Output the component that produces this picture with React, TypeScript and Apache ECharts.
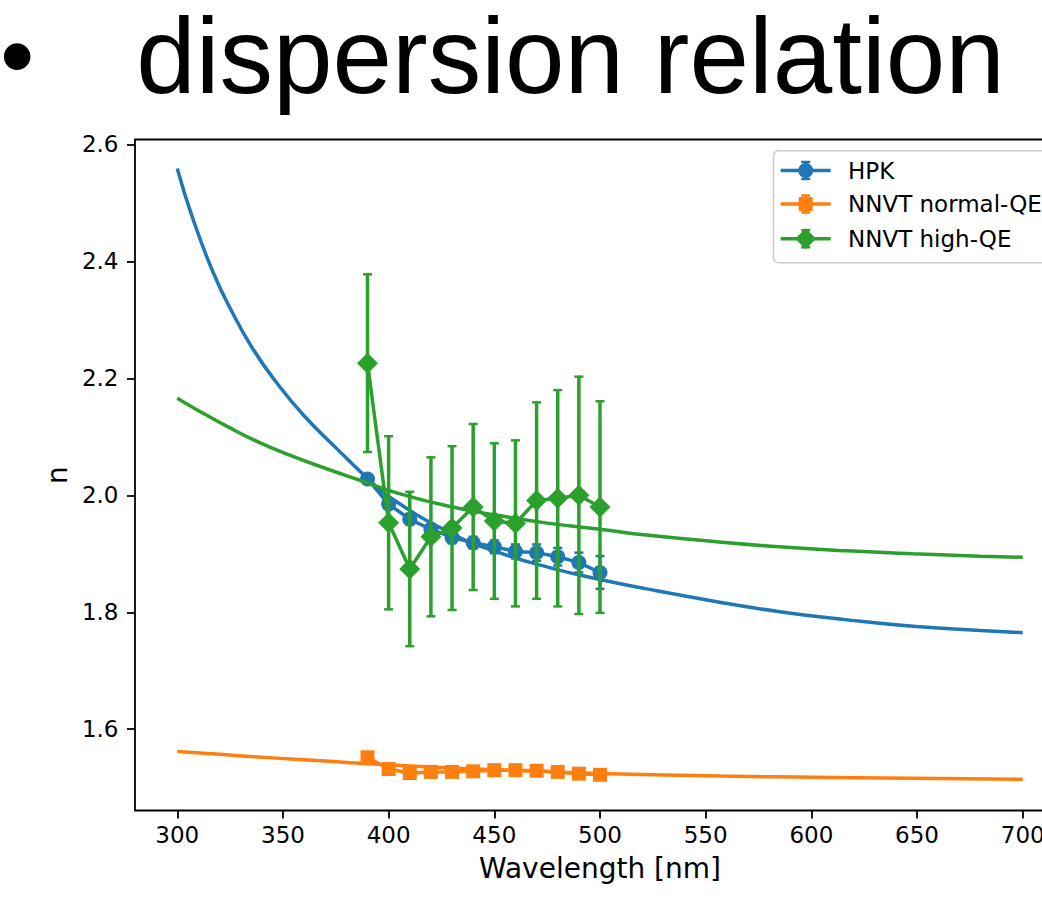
import React, { useEffect, useRef } from 'react';
import * as echarts from 'echarts';

// ---- data ----
const wavelengths = [390, 400, 410, 420, 430, 440, 450, 460, 470, 480, 490, 500];

const hpkN = [2.028, 1.985, 1.959, 1.942, 1.928, 1.919, 1.912, 1.904, 1.902, 1.895, 1.885, 1.868];
const hpkErr = [0.008, 0.008, 0.009, 0.009, 0.010, 0.010, 0.011, 0.012, 0.014, 0.015, 0.017, 0.028];

const normalN = [1.552, 1.532, 1.525, 1.527, 1.527, 1.528, 1.530, 1.530, 1.529, 1.527, 1.524, 1.522];
const normalErr = [0.005, 0.005, 0.005, 0.005, 0.005, 0.005, 0.005, 0.005, 0.005, 0.005, 0.005, 0.005];

const highN = [2.226, 1.953, 1.874, 1.929, 1.944, 1.980, 1.956, 1.952, 1.991, 1.995, 2.000, 1.980];
const highErr = [0.152, 0.148, 0.132, 0.136, 0.140, 0.142, 0.133, 0.142, 0.168, 0.185, 0.203, 0.181];

const hpkFit = [
  [300, 2.559], [307, 2.477], [317, 2.381], [326, 2.313], [335.5, 2.252],
  [346.5, 2.195], [360, 2.136], [375.7, 2.079], [390, 2.029], [400, 1.998], [429, 1.936],
  [453, 1.901], [476.5, 1.876], [500, 1.856], [522, 1.840], [554, 1.819], [585, 1.801],
  [617, 1.787], [648, 1.776], [680, 1.769], [700, 1.765],
];
const highFit = [
  [300, 2.166], [308, 2.149], [324, 2.117], [339, 2.090], [355, 2.066], [371, 2.045],
  [387, 2.025], [405, 2.003], [429, 1.981], [453, 1.965], [476, 1.952], [500, 1.942],
  [522, 1.932], [554, 1.921], [585, 1.912], [617, 1.905], [648, 1.900], [680, 1.896], [700, 1.894],
];
const normalFit = [
  [300, 1.5617], [320, 1.557], [345, 1.551], [370, 1.5455], [390, 1.541], [430, 1.5335],
  [470, 1.528], [504, 1.524], [557, 1.520], [610, 1.5175], [660, 1.5158], [700, 1.5145],
];

const xTicks = [300, 350, 400, 450, 500, 550, 600, 650, 700];
const yTicks = [1.6, 1.8, 2.0, 2.2, 2.4, 2.6];
const seriesNames = ['HPK', 'NNVT normal-QE', 'NNVT high-QE'];
const titleText = 'dispersion relation';
const xName = 'Wavelength [nm]';
const yName = 'n';

const C_BLUE = '#1f77b4';
const C_ORANGE = '#ff7f0e';
const C_GREEN = '#2ca02c';
const FONT = 'DejaVu Sans';

function errSeries(name: string, color: string, xs: number[], ys: number[], errs: number[], z: number) {
  return {
    type: 'custom',
    name,
    z,
    silent: true,
    data: xs.map((x, i) => [x, ys[i] - errs[i], ys[i] + errs[i]]),
    renderItem: (params: any, api: any) => {
      const x = api.value(0);
      const p1 = api.coord([x, api.value(1)]);
      const p2 = api.coord([x, api.value(2)]);
      const hw = 4.5;
      return {
        type: 'group',
        children: [
          { type: 'line', shape: { x1: p1[0], y1: p1[1], x2: p2[0], y2: p2[1] }, style: { stroke: color, lineWidth: 3.5 } },
          { type: 'line', shape: { x1: p1[0] - hw, y1: p1[1], x2: p1[0] + hw, y2: p1[1] }, style: { stroke: color, lineWidth: 2.5 } },
          { type: 'line', shape: { x1: p2[0] - hw, y1: p2[1], x2: p2[0] + hw, y2: p2[1] }, style: { stroke: color, lineWidth: 2.5 } },
        ],
      };
    },
  };
}

function dataSeries(name: string, color: string, xs: number[], ys: number[], symbol: string, size: any, z: number) {
  return {
    type: 'line',
    name,
    z,
    data: xs.map((x, i) => [x, ys[i]]),
    symbol,
    symbolSize: size,
    showSymbol: true,
    lineStyle: { width: 3.5, color },
    itemStyle: { color },
    emphasis: { disabled: true },
  };
}

function fitSeries(color: string, pts: number[][], z: number) {
  return {
    type: 'line',
    z,
    data: pts,
    symbol: 'none',
    smooth: 0.5,
    lineStyle: { width: 3.5, color },
    emphasis: { disabled: true },
  };
}

function legendGraphic() {
  const rows = [170.5, 204, 238.8];
  const colors = [C_BLUE, C_ORANGE, C_GREEN];
  const els: any[] = [
    {
      type: 'rect',
      z: 100,
      shape: { x: 773.5, y: 150.7, width: 400, height: 112, r: 5 },
      style: { fill: 'rgba(255,255,255,0.8)', stroke: '#cccccc', lineWidth: 1.6 },
    },
  ];
  rows.forEach((cy, i) => {
    const c = colors[i];
    const cx = 805.7;
    els.push({ type: 'line', z: 101, shape: { x1: 780.7, y1: cy, x2: 830.7, y2: cy }, style: { stroke: c, lineWidth: 3.5 } });
    els.push({ type: 'line', z: 101, shape: { x1: cx, y1: cy - 8.5, x2: cx, y2: cy + 8.5 }, style: { stroke: c, lineWidth: 3.5 } });
    els.push({ type: 'line', z: 101, shape: { x1: cx - 4.5, y1: cy - 8.5, x2: cx + 4.5, y2: cy - 8.5 }, style: { stroke: c, lineWidth: 2.5 } });
    els.push({ type: 'line', z: 101, shape: { x1: cx - 4.5, y1: cy + 8.5, x2: cx + 4.5, y2: cy + 8.5 }, style: { stroke: c, lineWidth: 2.5 } });
    if (i === 0) {
      els.push({ type: 'circle', z: 102, shape: { cx, cy, r: 7.5 }, style: { fill: c } });
    } else if (i === 1) {
      els.push({ type: 'rect', z: 102, shape: { x: cx - 7, y: cy - 7, width: 14, height: 14 }, style: { fill: c } });
    } else {
      els.push({
        type: 'polygon', z: 102,
        shape: { points: [[cx, cy - 10.5], [cx + 10.5, cy], [cx, cy + 10.5], [cx - 10.5, cy]] },
        style: { fill: c },
      });
    }
    els.push({
      type: 'text', z: 103, x: 848, y: cy,
      style: { text: seriesNames[i], fontFamily: FONT, fontSize: 23, fill: '#000', align: 'left', verticalAlign: 'middle' },
    });
  });
  return els;
}

export default function App() {
  const ref = useRef<HTMLDivElement>(null);
  useEffect(() => {
    const chart = echarts.init(ref.current!, null, { renderer: 'svg' });
    const option: any = {
      animation: false,
      backgroundColor: '#ffffff',
      grid: {
        left: 135, right: 35, top: 139.5, bottom: 89.5,
        show: true, borderColor: '#000', borderWidth: 1.8, backgroundColor: 'transparent',
      },
      xAxis: {
        type: 'value', min: 280, max: 720,
        name: xName, nameLocation: 'middle', nameGap: 43.5,
        nameTextStyle: { fontFamily: FONT, fontSize: 28, color: '#000' },
        axisLine: { show: false },
        axisTick: { show: true, inside: false, length: 8, lineStyle: { color: '#000', width: 1.8 }, customValues: xTicks },
        axisLabel: { show: true, margin: 13, fontFamily: FONT, fontSize: 23, color: '#000', customValues: xTicks, formatter: (v: number) => String(v) },
        splitLine: { show: false },
      },
      yAxis: {
        type: 'value', min: 1.461, max: 2.6085,
        name: yName, nameLocation: 'middle', nameGap: 62, nameRotate: 90,
        nameTextStyle: { fontFamily: FONT, fontSize: 28, color: '#000' },
        axisLine: { show: false },
        axisTick: { show: true, inside: false, length: 8, lineStyle: { color: '#000', width: 1.8 }, customValues: yTicks },
        axisLabel: { show: true, margin: 16.5, fontFamily: FONT, fontSize: 23, color: '#000', customValues: yTicks, formatter: (v: number) => v.toFixed(1) },
        splitLine: { show: false },
      },
      series: [
        errSeries('HPK', C_BLUE, wavelengths, hpkN, hpkErr, 3),
        dataSeries('HPK', C_BLUE, wavelengths, hpkN, 'circle', 15, 4),
        fitSeries(C_BLUE, hpkFit, 5),
        errSeries('NNVT normal-QE', C_ORANGE, wavelengths, normalN, normalErr, 6),
        dataSeries('NNVT normal-QE', C_ORANGE, wavelengths, normalN, 'rect', 14, 7),
        fitSeries(C_ORANGE, normalFit, 8),
        errSeries('NNVT high-QE', C_GREEN, wavelengths, highN, highErr, 9),
        dataSeries('NNVT high-QE', C_GREEN, wavelengths, highN, 'diamond', 21, 10),
        fitSeries(C_GREEN, highFit, 11),
      ],
      graphic: [
        {
          type: 'text', x: 0, y: 55, z: 100,
          style: { text: '\u2022', fontFamily: 'Liberation Sans', fontSize: 98, fill: '#000', align: 'left', verticalAlign: 'middle' },
        },
        {
          type: 'text', x: 136.3, y: 55.6, z: 100,
          style: { text: titleText, fontFamily: 'Liberation Sans', fontSize: 107, fill: '#000', align: 'left', verticalAlign: 'middle' },
        },
        ...legendGraphic(),
      ],
    };
    chart.setOption(option);
    return () => chart.dispose();
  }, []);
  return (
    <div style={{ position: 'absolute', left: 0, top: 0, width: 1042, height: 900, overflow: 'hidden', background: '#fff' }}>
      <div ref={ref} style={{ width: 1100, height: 900 }} />
    </div>
  );
}
